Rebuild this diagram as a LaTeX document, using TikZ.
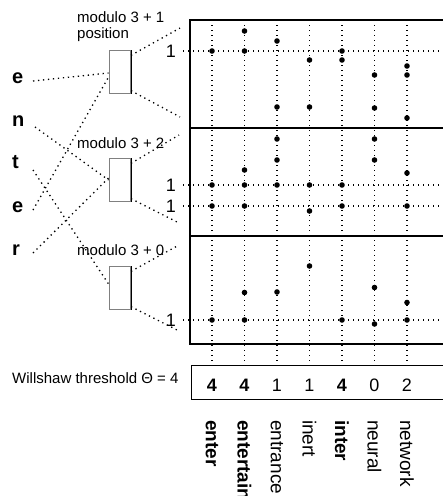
\documentclass[tikz,border=0pt]{standalone}
\usepackage{fontspec}
\setmainfont{Liberation Sans}
\usepackage{tikz}

\begin{document}
\begin{tikzpicture}[x=1pt,y=1pt]
\tikzstyle{every node}+=[inner sep=0pt]
\tikzstyle{letter}=[font=\fontsize{20}{20}\selectfont\bfseries, anchor=base west]
\tikzstyle{lab}=[font=\fontsize{15}{16}\selectfont, anchor=base west, align=left]
\tikzstyle{one}=[font=\fontsize{18}{18}\selectfont, anchor=east]
\tikzstyle{count}=[font=\fontsize{18}{18}\selectfont]
\tikzstyle{word}=[font=\fontsize{19}{19}\selectfont, rotate=-90, anchor=west]
\tikzstyle{modbox}=[draw=gray, line width=0.8pt, minimum width=21.7pt, minimum height=42.6pt]
\tikzstyle{cue}=[line width=1.3pt, dash pattern=on 1.3pt off 3.7pt]
\tikzstyle{band}=[line width=1.4pt]
\useasboundingbox (0,0) rectangle (443,-496);
% input letters
\node [letter] (e1) at (12,-83) {e};
\node [letter] (n) at (12,-126) {n};
\node [letter] (t) at (12,-168) {t};
\node [letter] (e2) at (12,-212) {e};
\node [letter] (r) at (12,-255) {r};
% modulo units
\node [modbox] (b1) at (119.8,-72) {};
\node [modbox] (b2) at (119.8,-180) {};
\node [modbox] (b3) at (119.8,-288) {};
\draw [line width=0.8pt] (b1.north east) -- (b1.south east);
\draw [line width=0.8pt] (b2.north east) -- (b2.south east);
\draw [line width=0.8pt] (b3.north east) -- (b3.south east);
\node [lab] (m1) at (77,-38) {modulo 3 + 1\\position};
\node [lab] (m2) at (77,-148) {modulo 3 + 2};
\node [lab] (m3) at (77,-255) {modulo 3 + 0};
% letters to units
\draw [cue] ([xshift=21pt,yshift=2pt]e1.base west) -- ([yshift=-1pt]b1.west);
\draw [cue] ([xshift=23pt,yshift=-1pt]n.base west) -- (b2.west);
\draw [cue] ([xshift=21pt,yshift=-2pt]t.base west) -- ([yshift=4pt]b3.west);
\draw [cue] ([xshift=21pt,yshift=2pt]e2.base west) -- ([yshift=-5pt]b1.west);
\draw [cue] ([xshift=21pt,yshift=2pt]r.base west) -- ([yshift=2pt]b2.west);
% units fan out to their bands
\coordinate (f1a) at (180,-28);
\coordinate (f1b) at (180,-117);
\coordinate (f2a) at (179,-135);
\coordinate (f2b) at (179,-223);
\coordinate (f3a) at (179,-245);
\coordinate (f3b) at (179,-331);
\draw [cue] ([yshift=-5pt]b1.north east) -- (f1a);
\draw [cue] ([yshift=3pt]b1.south east) -- (f1b);
\draw [cue] ([yshift=-5pt]b2.north east) -- (f2a);
\draw [cue] ([yshift=3pt]b2.south east) -- (f2b);
\draw [cue] ([yshift=-5pt]b3.north east) -- (f3a);
\draw [cue] ([yshift=3pt]b3.south east) -- (f3b);
% bands
\draw [band] (445,-20) -- (190,-20) -- (190,-344) -- (445,-344);
\draw [band] (190,-128) -- (445,-128);
\draw [band] (190,-236) -- (445,-236);
% word columns and active rows
\draw [cue] (212,-20) -- (212,-365);
\draw [cue] (244.5,-20) -- (244.5,-365);
\draw [cue] (277,-20) -- (277,-365);
\draw [cue] (309.5,-20) -- (309.5,-365);
\draw [cue] (342,-20) -- (342,-365);
\draw [cue] (374.5,-20) -- (374.5,-365);
\draw [cue] (407,-20) -- (407,-365);
\draw [cue] (183,-51) -- (445,-51);
\draw [cue] (183,-185) -- (445,-185);
\draw [cue] (183,-206) -- (445,-206);
\draw [cue] (183,-320) -- (445,-320);
\node [one] (r1) at (176,-51) {1};
\node [one] (r2) at (176,-185) {1};
\node [one] (r3) at (176,-206) {1};
\node [one] (r4) at (176,-320) {1};
% stored bits
\fill (212,-51) circle (2.8);
\fill (212,-185) circle (2.8);
\fill (212,-206) circle (2.8);
\fill (212,-320) circle (2.8);
\fill (244.5,-31) circle (2.8);
\fill (244.5,-51) circle (2.8);
\fill (244.5,-170) circle (2.8);
\fill (244.5,-185) circle (2.8);
\fill (244.5,-206) circle (2.8);
\fill (244.5,-292.5) circle (2.8);
\fill (244.5,-320) circle (2.8);
\fill (277,-41) circle (2.8);
\fill (277,-107) circle (2.8);
\fill (277,-139) circle (2.8);
\fill (277,-160) circle (2.8);
\fill (277,-185) circle (2.8);
\fill (277,-292) circle (2.8);
\fill (309.5,-60) circle (2.8);
\fill (309.5,-107) circle (2.8);
\fill (309.5,-185) circle (2.8);
\fill (309.5,-211) circle (2.8);
\fill (309.5,-266) circle (2.8);
\fill (342,-51) circle (2.8);
\fill (342,-60) circle (2.8);
\fill (342,-185) circle (2.8);
\fill (342,-206) circle (2.8);
\fill (342,-320) circle (2.8);
\fill (374.5,-75) circle (2.8);
\fill (374.5,-108) circle (2.8);
\fill (374.5,-139) circle (2.8);
\fill (374.5,-160) circle (2.8);
\fill (374.5,-287.5) circle (2.8);
\fill (374.5,-324) circle (2.8);
\fill (407,-66) circle (2.8);
\fill (407,-75) circle (2.8);
\fill (407,-118) circle (2.8);
\fill (407,-173) circle (2.8);
\fill (407,-206) circle (2.8);
\fill (407,-302.5) circle (2.8);
\fill (407,-320) circle (2.8);
% threshold row
\draw [line width=0.8pt] (445,-365.5) -- (191,-365.5) -- (191,-399) -- (445,-399);
\node [lab] (wt) at (12,-383) {Willshaw threshold Θ = 4};
\node [count] (c1) at (212,-385) {\bfseries 4};
\node [count] (c2) at (244.5,-385) {\bfseries 4};
\node [count] (c3) at (277,-385) {1};
\node [count] (c4) at (309.5,-385) {1};
\node [count] (c5) at (342,-385) {\bfseries 4};
\node [count] (c6) at (374.5,-385) {0};
\node [count] (c7) at (407,-385) {2};
% stored words
\node [word] (w1) at (212,-420) {\bfseries enter};
\node [word] (w2) at (244.5,-420) {\bfseries entertain};
\node [word] (w3) at (277,-420) {entrance};
\node [word] (w4) at (309.5,-420) {inert};
\node [word] (w5) at (342,-420) {\bfseries inter};
\node [word] (w6) at (374.5,-420) {neural};
\node [word] (w7) at (407,-420) {network};
\end{tikzpicture}
\end{document}
